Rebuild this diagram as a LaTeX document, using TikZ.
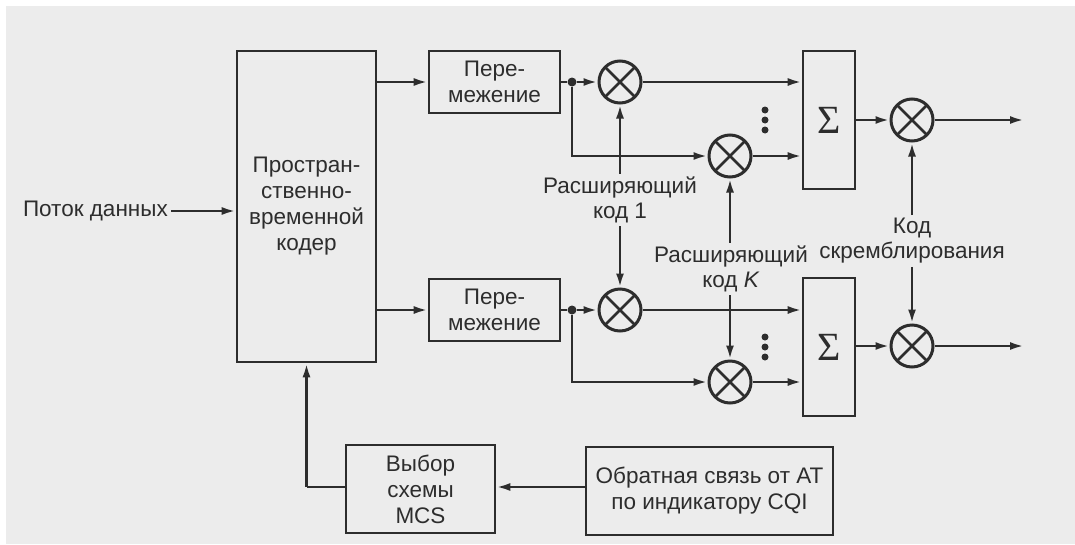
\documentclass[tikz,border=0pt]{standalone}
\usepackage{fontspec}
\setmainfont{Liberation Sans}
\newfontfamily\sigfont{Liberation Serif}
\usetikzlibrary{arrows.meta}
\definecolor{bg}{RGB}{236,236,236}
\definecolor{ink}{RGB}{45,45,45}
\begin{document}
\begin{tikzpicture}[x=1pt,y=-1pt,
  every node/.style={text=ink},
  ln/.style={draw=ink,line width=2.6pt},
  arr/.style={ln,-{Latex[length=14pt,width=8pt]}},
  blk/.style={draw=ink,line width=2.6pt,inner sep=0pt,align=center,font=\fontsize{22.5}{26}\selectfont},
  lbl/.style={align=center,inner sep=3pt,font=\fontsize{22.5}{25}\selectfont},
  mult/.style={circle,draw=ink,line width=3pt,minimum size=42pt,inner sep=0pt,
    path picture={\draw[ink,line width=2.6pt] (path picture bounding box.north west)--(path picture bounding box.south east)
      (path picture bounding box.north east)--(path picture bounding box.south west);}},
  jdot/.style={circle,fill=ink,inner sep=0pt,minimum size=9pt},
  sdot/.style={circle,fill=ink,inner sep=0pt,minimum size=7pt},
  sig/.style={blk,minimum width=52pt,minimum height=138pt,font=\sigfont\fontsize{40}{42}\selectfont}
]
\useasboundingbox (0,0) rectangle (1075,544);
\fill[white] (0,0) rectangle (1075,544);
\fill[bg] (6,6) rectangle (1075,544);

% blocks
\node[blk,minimum width=139pt,minimum height=311pt] (enc) at (306.5,206.5) {Простран-\\ственно-\\временной\\кодер};
\node[blk,minimum width=131pt,minimum height=62pt] (il1) at (494.5,82) {Пере-\\межение};
\node[blk,minimum width=131pt,minimum height=62pt] (il2) at (494.5,310) {Пере-\\межение};
\node[sig] (s1) at (829,120) {Σ};
\node[sig] (s2) at (829,347) {Σ};
\node[blk,minimum width=149pt,minimum height=88pt] (mcs) at (420.5,489) {Выбор\\схемы\\MCS};
\node[blk,minimum width=247pt,minimum height=88pt] (fb) at (709.5,491) {Обратная связь от АТ\\по индикатору CQI};

% multipliers
\node[mult] (m11) at (620,82) {};
\node[mult] (m12) at (730,156) {};
\node[mult] (m21) at (620,310) {};
\node[mult] (m22) at (730,382) {};
\node[mult] (o1) at (912,120) {};
\node[mult] (o2) at (912,346) {};

% junctions
\node[jdot] (d1) at (572,82) {};
\node[jdot] (d2) at (572,310) {};

% vertical dots
\node[sdot] (v11) at (765,110) {};
\node[sdot] (v12) at (765,120) {};
\node[sdot] (v13) at (765,130) {};
\node[sdot] (v21) at (765,337) {};
\node[sdot] (v22) at (765,347) {};
\node[sdot] (v23) at (765,357) {};

% labels
\node[lbl,anchor=east] (in) at (171,211) {Поток данных};
\node[lbl] (c1) at (620,200) {Расширяющий\\код 1};
\node[lbl] (ck) at (731,269) {Расширяющий\\код \textit{K}};
\node[lbl] (sc) at (912,241) {Код\\скремблирования};

\coordinate (out1) at (1024,120);
\coordinate (out2) at (1024,346);
\coordinate (fbk) at (306.5,487);

% connectors
\draw[arr] (in.east) -- (enc.west |- in.east);
\draw[arr] (enc.east |- il1) -- (il1.west);
\draw[arr] (enc.east |- il2) -- (il2.west);
\draw[ln] (il1.east) -- (d1);
\draw[ln] (il2.east) -- (d2);
\draw[arr] (d1) -- (m11);
\draw[arr] (d2) -- (m21);
\draw[arr] (d1) |- (m12);
\draw[arr] (d2) |- (m22);
\draw[arr] (m11) -- (s1.west |- m11);
\draw[arr] (m12) -- (s1.west |- m12);
\draw[arr] (m21) -- (s2.west |- m21);
\draw[arr] (m22) -- (s2.west |- m22);
\draw[arr] (s1.east |- o1) -- (o1);
\draw[arr] (s2.east |- o2) -- (o2);
\draw[arr] (o1) -- (out1);
\draw[arr] (o2) -- (out2);
\draw[arr] (c1.north) -- (m11.south);
\draw[arr] (c1.south) -- (m21.north);
\draw[arr] (ck.north -| m12) -- (m12.south);
\draw[arr] (ck.south -| m22) -- (m22.north);
\draw[arr] (sc.north) -- (o1.south);
\draw[arr] (sc.south) -- (o2.north);
\draw[arr] (fb.west |- fbk) -- (mcs.east |- fbk);
\draw[ln] (mcs.west |- fbk) -- (fbk);
\draw[arr] (fbk) -- (enc.south);
\end{tikzpicture}
\end{document}
